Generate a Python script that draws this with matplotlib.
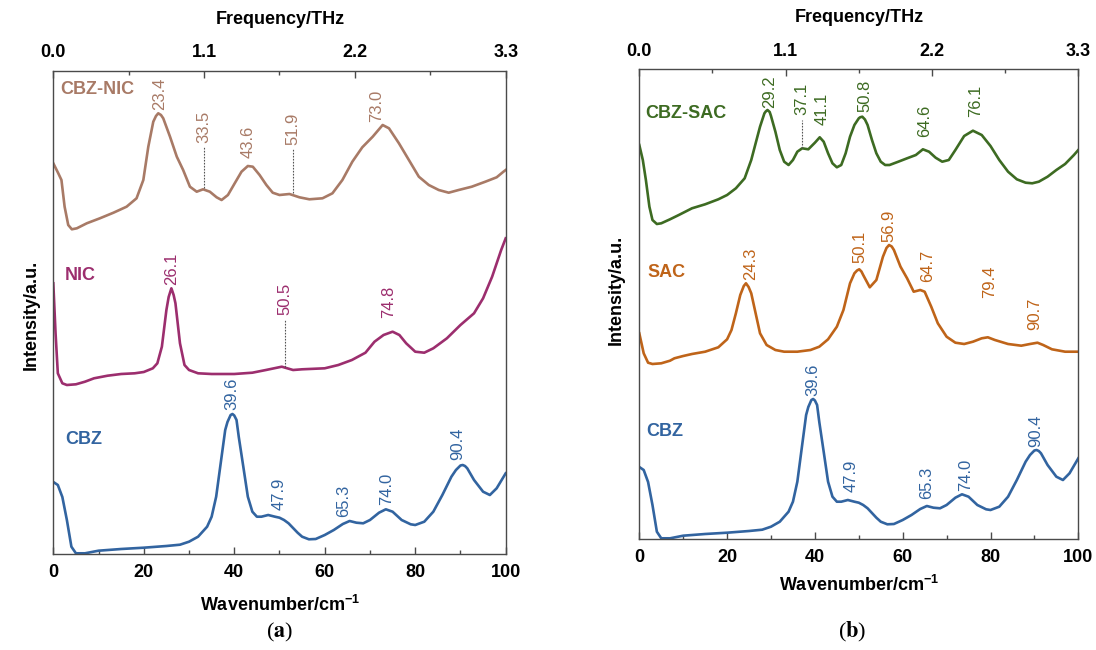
import matplotlib
matplotlib.use('Agg')
import matplotlib.pyplot as plt

plt.rcParams['font.family'] = ['Liberation Sans', 'DejaVu Sans']
plt.rcParams['mathtext.fontset'] = 'custom'
plt.rcParams['mathtext.rm'] = 'Liberation Sans:bold'
plt.rcParams['mathtext.bf'] = 'Liberation Sans:bold'

# ---------------- data (wavenumber / cm-1, intensity a.u. offset) ----------------
cbz_wn = [0, 1, 2, 3, 4, 5, 7, 10, 15, 20, 25, 28, 30, 32, 34, 35, 36, 37, 38, 38.5, 39.2,
          39.6, 40, 40.5, 41, 42, 43, 44, 45, 46, 47.5, 49, 50, 51, 52, 54, 55, 56.5, 58,
          60, 62, 64, 65.5, 67, 68.5, 70, 72, 73.5, 75, 77, 79, 80, 82, 84, 86, 88, 89,
          90, 90.5, 91, 91.5, 93, 95, 96.5, 98, 100]
cbz_int = [72, 69, 57, 34, 7.3, 0.7, 0.7, 3.3, 5, 6.3, 8, 9.3, 12.3, 17.3, 27.3, 37.3, 57.3,
           90.7, 124, 132, 139, 140, 138.5, 134, 117, 87.3, 57.3, 42.3, 37.3, 37.3, 39,
           37.3, 36.3, 34, 30.7, 21.3, 17.3, 14.7, 15, 19, 24, 30, 33, 31.3, 30.7, 34, 41.3,
           44.7, 42.3, 34, 29.7, 29, 32.3, 42.3, 59, 77.3, 84, 88.5, 89, 88, 85.7, 74, 62.3,
           59, 65.7, 80.7]

nic_wn = [0, 0.5, 1, 2, 3, 5, 7, 9, 12, 15, 18, 20, 22, 23, 24, 25, 25.5, 26.1, 26.6, 27,
          28, 29, 30, 32, 35, 40, 44, 47, 50.5, 53, 55, 60, 63, 66, 69, 71, 73, 75, 76.5,
          78, 80, 82, 84, 87, 90, 93, 95, 97, 99, 100]
nic_int = [270.7, 220.7, 180.7, 170.7, 169, 169.7, 172.3, 175.7, 178.3, 180, 180.7, 182,
           185.7, 190.7, 207.3, 244, 257, 265.7, 259, 250.7, 210.7, 189, 184, 180.7, 180,
           180, 181.3, 184, 187.3, 184, 184.7, 185.7, 189, 194, 201.3, 212.3, 219, 222.3,
           219, 210.7, 202.3, 201.3, 205.7, 215.7, 229, 240.7, 255.7, 277.3, 304, 315.7]

cbznic_wn = [0, 1.1, 1.8, 2.5, 3.3, 4.1, 5.2, 7.4, 10.3, 13.3, 16.2, 18.4, 19.9, 21, 22.1,
             22.7, 23.2, 23.8, 24.3, 25.8, 27.3, 28.7, 30.2, 31.7, 33.1, 34.6, 36.1, 37.2,
             38.6, 40.1, 41.6, 43.0, 44.1, 45.6, 47.1, 48.5, 50.0, 52.2, 54.4, 56.6, 59.5,
             61.7, 63.9, 66.1, 68.3, 70.6, 72.8, 74.2, 76.4, 78.6, 80.8, 83.0, 85.2, 87.4,
             89.6, 92.5, 95.5, 98.0, 99.5, 100]
cbznic_int = [390.7, 380.7, 374, 347.3, 329, 324.7, 325.7, 330.7, 335.7, 341.3, 347.3,
              355.7, 374, 407.3, 432.3, 438, 440.7, 439, 435.7, 417.3, 397.3, 384, 367.3,
              362.3, 364.7, 362.3, 356.7, 354, 359, 370.7, 382.3, 388, 387.3, 379, 369,
              361.3, 359, 360, 356.7, 354.7, 355.7, 360.7, 374, 392.3, 406.7, 417.3, 429,
              425.7, 410.7, 394, 377.3, 369, 364, 361.3, 364, 367.3, 372.3, 376.7, 382.3,
              384]

sac_wn = [0, 1, 2, 3, 5, 7, 8, 10, 12, 15, 18, 20, 21, 22, 23, 23.8, 24.3, 24.9, 25.5,
          26.5, 27.5, 29, 31, 33, 36, 39, 41, 43, 45, 46.5, 48, 49, 49.6, 50.1, 50.6, 51,
          52.5, 54, 55.5, 56.3, 56.9, 57.5, 58, 59.5, 61, 62.5, 64, 65, 66.5, 68, 70, 72,
          74, 76, 78, 79.4, 81, 84, 87, 89, 90.7, 92, 94, 97, 100]
sac_int = [205.7, 185.7, 176.3, 175, 175.7, 178.3, 180.7, 183, 185, 187.3, 191.7, 199.7,
           209, 225.7, 244, 253, 255.7, 252, 245.7, 225.7, 205.7, 194, 189, 187.3, 187.3,
           189, 192.3, 199.7, 212.3, 229, 255.7, 265.7, 268.5, 269.7, 267.5, 264, 251.7,
           259, 282.3, 291, 294, 292.5, 289, 272.3, 260.7, 247.3, 249, 247.3, 232.3, 215.7,
           202.3, 196.3, 195, 197.3, 200.7, 201.7, 199, 195, 193.3, 195, 196.3, 194, 189.7,
           187.3, 187.3]

cbzsac_wn = [0, 0.8, 1.5, 2.3, 3, 4, 5, 7, 9, 12, 15, 18, 20, 22, 24, 25.5, 26.5, 27.5, 28.5,
             28.8, 29.2, 29.7, 30, 31, 32, 33, 34, 35, 36, 37.1, 38.5, 40, 41.1, 42, 43, 44,
             45, 46, 47, 48, 49, 50, 50.3, 50.8, 51.4, 52, 53, 54, 55, 56, 57, 59, 61, 63,
             64.6, 66, 67.5, 69, 70.5, 72, 74, 76, 78, 80, 82, 84, 86, 88, 89.5, 91, 93, 95,
             97, 99, 100]
cbzsac_int = [394, 379, 359, 332.3, 319, 315, 315.7, 319.7, 324, 330.7, 334.7, 339.7, 344,
              350.7, 360.7, 379, 395.7, 412.3, 425.7, 427.5, 429, 427, 423, 407.3, 389, 377.3,
              374, 379, 387.3, 390.7, 389.7, 396.3, 401.7, 397.3, 385.7, 375.7, 371.7, 374,
              385.7, 402.3, 414, 420.7, 421.7, 422.3, 419.5, 414, 399, 385.7, 377.3, 374,
              374, 377.3, 380.7, 384, 389.7, 387.3, 381.3, 377.3, 379, 389, 403, 408.3, 404,
              393, 379, 367.3, 359.7, 356.3, 355.7, 357.3, 362.3, 369, 375, 384, 389]

# peak labels: text, x (cm-1), bottom of the rotated label (a.u.)
cbz_peaks_a = ['39.6', '47.9', '65.3', '74.0', '90.4']
cbz_px_a = [39.4, 49.9, 64.2, 73.7, 89.4]
cbz_py_a = [144, 44, 37.3, 49, 94]
cbz_peaks_b = ['39.6', '47.9', '65.3', '74.0', '90.4']
cbz_px_b = [39.5, 48.3, 65.4, 74.4, 90.3]
cbz_py_b = [143, 46.7, 40, 48.3, 91.7]
nic_peaks = ['26.1', '50.5', '74.8']
nic_px = [26.1, 51.2, 74.1]
nic_py = [269, 239, 235.7]
cbznic_peaks = ['23.4', '33.5', '43.6', '51.9', '73.0']
cbznic_px = [23.6, 33.2, 43.1, 53.0, 71.5]
cbznic_py = [444, 410.7, 395.7, 409, 432.3]
sac_peaks = ['24.3', '50.1', '56.9', '64.7', '79.4', '90.7']
sac_px = [25.3, 50.2, 56.9, 65.6, 79.9, 90.1]
sac_py = [259, 275.7, 297.3, 257.3, 240.7, 209]
cbzsac_peaks = ['29.2', '37.1', '41.1', '50.8', '64.6', '76.1']
cbzsac_px = [29.8, 37.1, 41.6, 51.3, 64.9, 76.7]
cbzsac_py = [431, 424, 414, 427, 402.3, 422.3]

# dotted leader lines: x, y_low, y_high
leaders_a_x = [33.3, 53.0, 51.2]
leaders_a_lo = [365.7, 360.7, 187.3]
leaders_a_hi = [407.3, 405.7, 234]
leaders_b_x = [37.1]
leaders_b_lo = [390.7]
leaders_b_hi = [419]

freq_ticks = ['0.0', '1.1', '2.2', '3.3']

C_CBZ = '#3264a0'
C_NIC = '#9c2e6e'
C_CBZNIC = '#a87a66'
C_SAC = '#bf6419'
C_CBZSAC = '#3d6b22'
FRAME = '#4a4a4a'

W, H = 1096, 650
fig = plt.figure(figsize=(W / 100, H / 100), dpi=100)
axA = fig.add_axes([53.3 / W, 1 - 554 / H, 452.4 / W, 483 / H])
axB = fig.add_axes([639.3 / W, 1 - 539 / H, 439 / W, 469.7 / H])


def setup(ax, ymax):
    ax.set_xlim(0, 100)
    ax.set_ylim(0, ymax)
    ax.set_yticks([])
    ax.set_xticks([0, 20, 40, 60, 80, 100])
    ax.set_xticks([10, 30, 50, 70, 90], minor=True)
    ax.tick_params(axis='x', which='major', direction='in', length=5, width=1,
                   color=FRAME, labelsize=13, pad=7)
    ax.tick_params(axis='x', which='minor', direction='in', length=3, width=1, color=FRAME)
    for lab in ax.get_xticklabels():
        lab.set_fontweight('bold')
    for s in ax.spines.values():
        s.set_color(FRAME)
        s.set_linewidth(1.0)
    top = ax.twiny()
    top.set_xlim(0, 100)
    top.set_xticks([0, 100 / 3, 200 / 3, 100])
    top.set_xticklabels(freq_ticks, fontweight='bold')
    top.set_xticks([100 / 6, 50, 500 / 6], minor=True)
    top.tick_params(axis='x', which='major', direction='in', length=5, width=1,
                    color=FRAME, labelsize=13, pad=7)
    top.tick_params(axis='x', which='minor', direction='in', length=3, width=1, color=FRAME)
    for s in top.spines.values():
        s.set_visible(False)
    return top


setup(axA, 483)
setup(axB, 469.7)

LW = 1.9


def peaks(ax, texts, xs, ys, color):
    for t, x, y in zip(texts, xs, ys):
        ax.text(x, y, t, rotation=90, ha='center', va='bottom', fontsize=12,
                color=color)


def leaders(ax, xs, lo, hi):
    for x, a, b in zip(xs, lo, hi):
        ax.plot([x, x], [a, b], color='#555555', lw=0.8, ls=(0, (1.5, 1.2)))


# panel (a)
axA.plot(cbznic_wn, cbznic_int, color=C_CBZNIC, lw=LW, solid_joinstyle='round')
axA.plot(nic_wn, nic_int, color=C_NIC, lw=LW, solid_joinstyle='round')
axA.plot(cbz_wn, cbz_int, color=C_CBZ, lw=LW, solid_joinstyle='round')
axA.text(1.5, 465, 'CBZ-NIC', color=C_CBZNIC, fontsize=13, fontweight='bold',
         ha='left', va='center')
axA.text(2.6, 279, 'NIC', color=C_NIC, fontsize=13, fontweight='bold', ha='left', va='center')
axA.text(2.7, 114, 'CBZ', color=C_CBZ, fontsize=13, fontweight='bold', ha='left', va='center')
peaks(axA, cbznic_peaks, cbznic_px, cbznic_py, C_CBZNIC)
peaks(axA, nic_peaks, nic_px, nic_py, C_NIC)
peaks(axA, cbz_peaks_a, cbz_px_a, cbz_py_a, C_CBZ)
leaders(axA, leaders_a_x, leaders_a_lo, leaders_a_hi)

# panel (b)
axB.plot(cbzsac_wn, cbzsac_int, color=C_CBZSAC, lw=LW, solid_joinstyle='round')
axB.plot(sac_wn, sac_int, color=C_SAC, lw=LW, solid_joinstyle='round')
axB.plot(cbz_wn, cbz_int, color=C_CBZ, lw=LW, solid_joinstyle='round')
axB.text(1.4, 426, 'CBZ-SAC', color=C_CBZSAC, fontsize=13, fontweight='bold',
         ha='left', va='center')
axB.text(1.9, 267, 'SAC', color=C_SAC, fontsize=13, fontweight='bold', ha='left', va='center')
axB.text(1.5, 108, 'CBZ', color=C_CBZ, fontsize=13, fontweight='bold', ha='left', va='center')
peaks(axB, cbzsac_peaks, cbzsac_px, cbzsac_py, C_CBZSAC)
peaks(axB, sac_peaks, sac_px, sac_py, C_SAC)
peaks(axB, cbz_peaks_b, cbz_px_b, cbz_py_b, C_CBZ)
leaders(axB, leaders_b_x, leaders_b_lo, leaders_b_hi)


def ftext(x, y, s, **kw):
    fig.text(x / W, 1 - y / H, s, ha='center', va='center', **kw)


ftext(280, 20, 'Frequency/THz', fontsize=13, fontweight='bold')
ftext(859, 18, 'Frequency/THz', fontsize=13, fontweight='bold')
ftext(280, 605, r'Wavenumber/cm$^{-1}$', fontsize=13, fontweight='bold')
ftext(859, 585, r'Wavenumber/cm$^{-1}$', fontsize=13, fontweight='bold')
ftext(31, 315, 'Intensity/a.u.', fontsize=13, fontweight='bold', rotation=90)
ftext(616, 290, 'Intensity/a.u.', fontsize=13, fontweight='bold', rotation=90)
ftext(280, 632, r'($\mathbf{a}$)', fontsize=16, family='Liberation Serif',
      math_fontfamily='stix')
ftext(852, 632, r'($\mathbf{b}$)', fontsize=16, family='Liberation Serif',
      math_fontfamily='stix')

fig.savefig('out.png', dpi=100)
